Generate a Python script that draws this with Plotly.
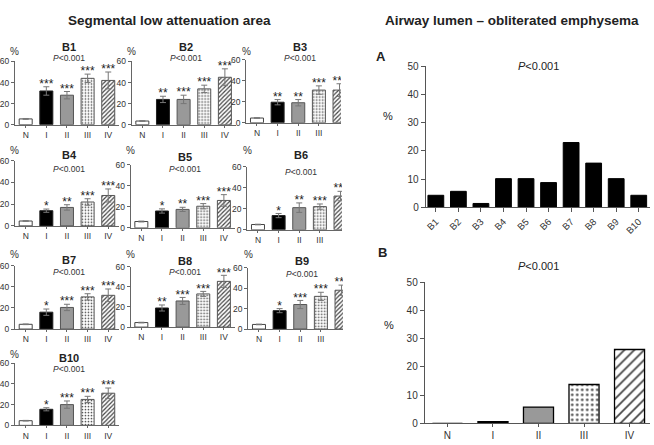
import plotly.graph_objects as go

# ---------------- data ----------------
groups = ["N", "I", "II", "III", "IV"]
segments = ["B1", "B2", "B3", "B4", "B5", "B6", "B7", "B8", "B9", "B10"]

b1_mean = [5.5, 32, 28, 44, 42]
b1_err = [0.4, 4, 3.5, 4, 8]
b1_sig = ["***", "***", "***", "***"]
b2_mean = [3.5, 24, 24, 34, 45]
b2_err = [0.3, 3, 4, 3.5, 8]
b2_sig = ["**", "***", "***", "***"]
b3_mean = [4.5, 19.5, 19, 31, 31]
b3_err = [0.3, 2.5, 3, 4, 6]
b3_sig = ["**", "**", "***", "***"]
b4_mean = [4.5, 14, 17, 22, 28]
b4_err = [0.3, 1.5, 2.5, 3, 6]
b4_sig = ["*", "**", "***", "***"]
b5_mean = [6, 16, 17.5, 20.5, 26]
b5_err = [0.4, 2, 2, 2.5, 5.5]
b5_sig = ["*", "**", "***", "***"]
b6_mean = [5, 13.5, 21, 22, 32]
b6_err = [0.3, 2, 4.5, 2.5, 4.5]
b6_sig = ["*", "**", "***", "***"]
b7_mean = [4.5, 16, 20.5, 30.5, 32]
b7_err = [0.3, 3, 3, 3, 6]
b7_sig = ["*", "***", "***", "***"]
b8_mean = [4.5, 19, 26, 33, 45.5]
b8_err = [0.3, 3, 3.5, 2.5, 6]
b8_sig = ["**", "***", "***", "***"]
b9_mean = [4.5, 18, 24, 32, 38]
b9_err = [0.3, 2, 4, 4, 5]
b9_sig = ["*", "***", "***", "***"]
b10_mean = [4.5, 15.5, 20, 25, 31]
b10_err = [0.3, 1.5, 3.5, 3, 5]
b10_sig = ["*", "***", "***", "***"]

obliterated_by_segment = [4.3, 5.7, 1.4, 10.2, 10.2, 8.8, 23, 15.7, 10.2, 4.3]
obliterated_by_group = [0, 0.6, 5.8, 13.8, 26.2]

y_ticks_left = [0, 20, 40, 60]
y_ticks_right = [0, 10, 20, 30, 40, 50]

means = [b1_mean, b2_mean, b3_mean, b4_mean, b5_mean, b6_mean, b7_mean, b8_mean, b9_mean, b10_mean]
errs = [b1_err, b2_err, b3_err, b4_err, b5_err, b6_err, b7_err, b8_err, b9_err, b10_err]
sigs = [b1_sig, b2_sig, b3_sig, b4_sig, b5_sig, b6_sig, b7_sig, b8_sig, b9_sig, b10_sig]

# ---------------- layout helpers ----------------
W, H = 654, 445
FONT = "Liberation Sans, Arial, sans-serif"
TXT = "#222222"
AX = "#666666"


def px(x):
    return x / W


def py(y):
    return 1 - y / H


# panel placement in pixels: axis x, y of 60, y of 0, title y, P y, % y
panel_px = {
    "B1": (13, 57, 122, 42, 53, 47),
    "B2": (130, 57, 122, 42, 53, 47),
    "B3": (245, 55, 120, 42, 53, 47),
    "B4": (13, 159, 226, 153, 168, 148),
    "B5": (129, 163, 228, 155, 168, 148),
    "B6": (246, 165, 230, 153, 171, 148),
    "B7": (13, 267, 332, 261, 273, 255),
    "B8": (129, 268, 330, 262, 273, 255),
    "B9": (247, 269, 332, 262, 275, 255),
    "B10": (13, 367, 431, 362, 373, 358),
}
cut_panels = {"B3", "B6", "B9"}
CAT_PX = 20.7
X0 = -0.52

fill_colors = ["white", "black", "#999999", "white", "white"]
line_colors = ["#444444", "#222222", "#555555", "#555555", "#555555"]
pattern_shapes = ["", "", "", ".", "/"]

fig = go.Figure()
annotations = []
layout = {}

for k, seg in enumerate(segments):
    idx = k + 1
    xa = "x" if idx == 1 else f"x{idx}"
    ya = "y" if idx == 1 else f"y{idx}"
    axx, y60, y0, ty, pyy, pcy = panel_px[seg]
    x1 = 4.07 if seg in cut_panels else 4.52
    width_px = (x1 - X0) * CAT_PX

    fig.add_trace(go.Bar(
        x=groups, y=means[k],
        xaxis=xa, yaxis=ya,
        width=0.63,
        marker=dict(
            color=fill_colors,
            line=dict(color=line_colors, width=1),
            pattern=dict(shape=pattern_shapes, fgcolor=["#555", "#555", "#555", "#b5b5b5", "#6a6a6a"],
                         bgcolor="white", size=[3, 3, 3, 3, 3], solidity=[0.3, 0.3, 0.3, 0.25, 0.4],
                         fillmode="overlay", fgopacity=1),
        ),
        error_y=dict(type="data", array=errs[k], color="#777777", thickness=1, width=3),
        showlegend=False,
    ))
    star_y = [m + e + 1.8 for m, e in zip(means[k][1:], errs[k][1:])]
    fig.add_trace(go.Scatter(
        x=groups[1:], y=star_y, text=sigs[k], mode="text",
        textposition="middle center",
        textfont=dict(family=FONT, size=12, color=TXT),
        xaxis=xa, yaxis=ya, showlegend=False,
        cliponaxis=(seg in cut_panels),
    ))

    xkey = "xaxis" if idx == 1 else f"xaxis{idx}"
    ykey = "yaxis" if idx == 1 else f"yaxis{idx}"
    tickcats = groups[:4] if seg in cut_panels else groups
    layout[xkey] = dict(
        domain=[px(axx), px(axx + width_px)], anchor=ya,
        type="category", range=[X0, x1],
        categoryorder="array", categoryarray=groups,
        tickvals=tickcats,
        showline=True, linecolor=AX, linewidth=1,
        ticks="outside", ticklen=2, tickcolor=AX,
        tickfont=dict(family=FONT, size=8.5, color="#333333"),
        showgrid=False, zeroline=False, fixedrange=True,
    )
    layout[ykey] = dict(
        domain=[py(y0), py(y60)], anchor=xa,
        range=[0, 60], tickvals=y_ticks_left,
        showline=True, linecolor=AX, linewidth=1,
        ticks="outside", ticklen=3, tickcolor=AX,
        tickfont=dict(family=FONT, size=8.5, color="#333333"),
        showgrid=False, zeroline=False, fixedrange=True,
    )
    annotations.append(dict(
        x=2.1, xref=xa, y=py(ty), yref="paper", text=f"<b>{seg}</b>",
        showarrow=False, font=dict(family=FONT, size=11, color=TXT),
        xanchor="center", yanchor="middle"))
    annotations.append(dict(
        x=2.1, xref=xa, y=py(pyy), yref="paper", text="<i>P</i>&lt;0.001",
        showarrow=False, font=dict(family=FONT, size=8.5, color="#333333"),
        xanchor="center", yanchor="middle"))
    annotations.append(dict(
        x=px(axx), xref="paper", y=py(pcy), yref="paper", text="%",
        showarrow=False, font=dict(family=FONT, size=10, color="#333333"),
        xanchor="center", yanchor="middle"))

# ---------------- right panel A ----------------
fig.add_trace(go.Bar(
    x=segments, y=obliterated_by_segment, xaxis="x11", yaxis="y11",
    width=0.7, marker=dict(color="black", line=dict(color="black", width=1)),
    showlegend=False,
))
layout["xaxis11"] = dict(
    domain=[px(425), px(650)], anchor="y11", type="category",
    range=[-0.45, 9.5], tickangle=-45,
    showline=True, linecolor="#555555", linewidth=1,
    ticks="outside", ticklen=4, tickcolor="#555555",
    tickfont=dict(family=FONT, size=9.5, color="#333333"),
    showgrid=False, zeroline=False, fixedrange=True,
)
layout["yaxis11"] = dict(
    domain=[py(207), py(62)], anchor="x11", range=[0, 50], tickvals=y_ticks_right,
    showline=True, linecolor="#555555", linewidth=1,
    ticks="outside", ticklen=4, tickcolor="#555555",
    tickfont=dict(family=FONT, size=10, color="#333333"),
    showgrid=False, zeroline=False, fixedrange=True,
)

# ---------------- right panel B ----------------
fig.add_trace(go.Bar(
    x=groups, y=obliterated_by_group, xaxis="x12", yaxis="y12",
    width=0.66,
    marker=dict(
        color=["white", "black", "#999999", "white", "white"],
        line=dict(color="black", width=1.3),
        pattern=dict(shape=pattern_shapes, fgcolor=["#333", "#333", "#333", "#555555", "#111111"],
                     bgcolor="white", size=[6, 6, 6, 5, 7], solidity=[0.3, 0.3, 0.3, 0.2, 0.25],
                     fillmode="overlay", fgopacity=1),
    ),
    showlegend=False,
))
layout["xaxis12"] = dict(
    domain=[px(424), px(650)], anchor="y12", type="category",
    range=[-0.5, 4.45],
    showline=True, linecolor="#555555", linewidth=1,
    ticks="outside", ticklen=3, tickcolor="#555555",
    tickfont=dict(family=FONT, size=10, color="#333333"),
    showgrid=False, zeroline=False, fixedrange=True,
)
layout["yaxis12"] = dict(
    domain=[py(429), py(284)], anchor="x12", range=[0, 50], tickvals=y_ticks_right,
    showline=True, linecolor="#555555", linewidth=1,
    ticks="outside", ticklen=4, tickcolor="#555555",
    tickfont=dict(family=FONT, size=10, color="#333333"),
    showgrid=False, zeroline=False, fixedrange=True,
)

right_labels = [
    ("<b>A</b>", 380, 52, 13), ("<i>P</i>&lt;0.001", 538, 62, 11), ("%", 387, 113, 11),
    ("<b>B</b>", 382, 253, 13), ("<i>P</i>&lt;0.001", 538, 267, 11), ("%", 388, 328, 11),
]
for text, x, y, s in right_labels:
    annotations.append(dict(
        x=px(x), xref="paper", y=py(y), yref="paper", text=text, showarrow=False,
        font=dict(family=FONT, size=s, color=TXT), xanchor="center", yanchor="middle"))

# ---------------- section titles ----------------
annotations.append(dict(
    x=px(168), xref="paper", y=py(15), yref="paper",
    text="<b>Segmental low attenuation area</b>", showarrow=False,
    font=dict(family=FONT, size=13.5, color=TXT), xanchor="center", yanchor="middle"))
annotations.append(dict(
    x=px(512), xref="paper", y=py(15), yref="paper",
    text="<b>Airway lumen – obliterated emphysema</b>", showarrow=False,
    font=dict(family=FONT, size=13.5, color=TXT), xanchor="center", yanchor="middle"))

fig.update_layout(
    width=W, height=H, autosize=False,
    margin=dict(l=0, r=0, t=0, b=0),
    paper_bgcolor="white", plot_bgcolor="white",
    bargap=0.3, annotations=annotations,
    font=dict(family=FONT, color=TXT),
    **layout,
)

fig.write_html(
    "out.html",
    config={"displayModeBar": False},
    post_script="document.body.style.margin='0';document.body.style.overflow='hidden';",
)
